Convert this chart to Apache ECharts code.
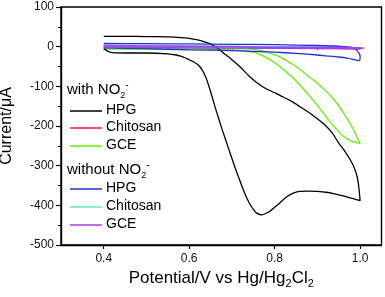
<!DOCTYPE html>
<html><head><meta charset="utf-8">
<script src="https://cdn.jsdelivr.net/npm/echarts@6/dist/echarts.min.js"></script>
<style>html,body{margin:0;padding:0;background:#fff}#c{width:385px;height:297px}</style>
</head><body><div id="c"></div>
<script>
// ---- data (Potential V, Current uA) ----
const hpgWith = [[0.40,26],[0.45,26],[0.50,25.5],[0.55,24.5],[0.58,23],[0.60,21],[0.62,17],[0.64,11],[0.655,4],[0.67,-7],[0.685,-20],[0.70,-33],[0.72,-52],[0.74,-74],[0.76,-92],[0.78,-106],[0.80,-116],[0.82,-127],[0.84,-138],[0.86,-152],[0.88,-166],[0.90,-182],[0.92,-200],[0.935,-218],[0.95,-243],[0.965,-265],[0.975,-282],[0.985,-302],[0.993,-328],[0.997,-355],[1.0,-388],
  [0.98,-382],[0.96,-376],[0.94,-371],[0.92,-367],[0.90,-365],[0.88,-364],[0.86,-365],[0.85,-367],[0.84,-371],[0.83,-377],[0.82,-386],[0.81,-396],[0.80,-405],[0.79,-414],[0.78,-420],[0.77,-424],[0.76,-421],[0.75,-410],[0.74,-393],[0.73,-370],[0.72,-342],[0.71,-313],[0.70,-282],[0.69,-250],[0.68,-218],[0.67,-185],[0.66,-150],[0.65,-113],[0.64,-80],[0.63,-58],[0.62,-45],[0.61,-38],[0.60,-33],[0.59,-28],[0.58,-24],[0.57,-21],[0.55,-18],[0.50,-16],[0.45,-16],[0.42,-15],[0.41,-12],[0.40,-5]];
const chitosanWith = [[0.40,2],[0.60,0],[0.80,-2],[0.95,-3],[1.0,-6],[0.95,-5],[0.80,-4],[0.60,-3],[0.40,-1]];
const gceWith = [[0.40,-6],[0.50,-6],[0.60,-7],[0.70,-8],[0.72,-9],[0.75,-14],[0.78,-27],[0.80,-40],[0.82,-57],[0.84,-76],[0.86,-98],[0.88,-122],[0.90,-148],[0.92,-176],[0.94,-203],[0.96,-225],[0.98,-238],[1.0,-244],
  [0.99,-222],[0.98,-200],[0.96,-165],[0.94,-135],[0.92,-112],[0.90,-92],[0.88,-75],[0.86,-58],[0.84,-43],[0.82,-30],[0.80,-20],[0.78,-13],[0.76,-8],[0.72,-4],[0.60,-3],[0.40,-2]];
const hpgWithout = [[0.40,8],[0.50,7.5],[0.60,7],[0.70,6],[0.80,5],[0.90,3],[0.95,1],[0.98,-2],[0.993,-10],[1.0,-25],[0.998,-35],[0.99,-34],[0.97,-29],[0.95,-26],[0.92,-23],[0.90,-21],[0.85,-17],[0.80,-14],[0.70,-10],[0.60,-8],[0.50,-5],[0.40,-3]];
const chitosanWithout = [[0.40,4],[0.60,2],[0.80,0],[0.95,-2],[1.0,-4],[0.95,-4],[0.80,-3],[0.60,-2],[0.40,0]];
const gceWithout = [[0.40,3],[0.60,1],[0.80,-1],[0.95,-2],[1.01,-3],[1.0,-5],[0.80,-4],[0.60,-3],[0.40,-1]];

const xTicks = [0.4, 0.6, 0.8, 1.0];
const xMinorTicks = [0.5, 0.7, 0.9];
const groupTitles = ['with NO', 'without NO'];
const itemNames = ['HPG', 'Chitosan', 'GCE'];
const withColors = ['#000000', '#e8123c', '#5ef000'];
const withoutColors = ['#1f2fe0', '#5ef0b0', '#a040f0'];

const FONT = 'Liberation Sans, Arial, sans-serif';
const chart = echarts.init(document.getElementById('c'), null, {renderer: 'canvas'});

function ser(name, data, color, z) {
  return {name, type: 'line', data, showSymbol: false, smooth: 0.25, z,
    lineStyle: {color, width: 1.3}, itemStyle: {color}, animation: false};
}

// legend graphics
const graphic = [];
const gx = 67, lx1 = 70, lx2 = 102, tx = 106;
const titleY = [90, 170];
const itemY = [[111, 128, 146], [189, 207, 225]];
const groupColors = [withColors, withoutColors];
for (let g = 0; g < 2; g++) {
  graphic.push({type: 'text', left: gx, top: titleY[g] - 10, z: 100,
    style: {text: '{m|' + groupTitles[g] + '}{s|2}{p|-}', fill: '#000',
      rich: {m: {fontFamily: FONT, fontSize: 15, fill: '#000'},
             s: {fontFamily: FONT, fontSize: 9, fill: '#000', verticalAlign: 'bottom', padding: [9, 0, 0, 0]},
             p: {fontFamily: FONT, fontSize: 10, fill: '#000', padding: [0, 0, 10, 0]}}}});
  for (let i = 0; i < 3; i++) {
    const y = itemY[g][i];
    graphic.push({type: 'line', z: 100, shape: {x1: lx1, y1: y, x2: lx2, y2: y},
      style: {stroke: groupColors[g][i], lineWidth: 1.5}});
    graphic.push({type: 'text', left: tx, top: y - 8, z: 100,
      style: {text: itemNames[i], fontFamily: FONT, fontSize: 14, fill: '#000'}});
  }
}

chart.setOption({
  animation: false,
  backgroundColor: '#fff',
  grid: {left: 61, right: 3.5, top: 7, bottom: 52, show: true, borderColor: '#000', borderWidth: 1.4,
    containLabel: false, outerBoundsMode: 'none'},
  xAxis: [{
    type: 'value', min: 0.3, max: 1.05,
    name: '{m|Potential/V vs Hg/Hg}{s|2}{m|Cl}{s|2}', nameLocation: 'middle', nameGap: 23,
    nameTextStyle: {rich: {m: {fontFamily: FONT, fontSize: 17, color: '#000'},
      s: {fontFamily: FONT, fontSize: 11, color: '#000', padding: [10, 0, 0, 0]}}},
    axisLine: {onZero: false, lineStyle: {color: '#000', width: 1.4}},
    axisTick: {inside: false, length: 4, customValues: xTicks, lineStyle: {color: '#000', width: 1.2}},
    axisLabel: {customValues: xTicks, formatter: v => v.toFixed(1), fontFamily: FONT, fontSize: 12, color: '#111', margin: 8},
    splitLine: {show: false}
  }, {
    type: 'value', min: 0.3, max: 1.05, position: 'bottom',
    axisLine: {show: false},
    axisTick: {inside: false, length: 3, customValues: xMinorTicks, lineStyle: {color: '#000', width: 1}},
    axisLabel: {show: false}, splitLine: {show: false}
  }],
  yAxis: {
    type: 'value', min: -500, max: 100, interval: 100,
    name: 'Current/μA', nameLocation: 'middle', nameGap: 46, nameRotate: 90,
    nameTextStyle: {fontFamily: FONT, fontSize: 16, color: '#000'},
    axisLine: {onZero: false, lineStyle: {color: '#000', width: 1.4}},
    axisTick: {inside: false, length: 5, lineStyle: {color: '#000', width: 1.2}},
    minorTick: {show: true, splitNumber: 2, length: 3, lineStyle: {color: '#000', width: 1}},
    axisLabel: {fontFamily: FONT, fontSize: 12, color: '#111', margin: 7},
    splitLine: {show: false}, minorSplitLine: {show: false}
  },
  graphic,
  series: [
    ser('Chitosan (with NO2-)', chitosanWith, withColors[1], 2),
    ser('Chitosan (without NO2-)', chitosanWithout, withoutColors[1], 3),
    ser('GCE (with NO2-)', gceWith, withColors[2], 4),
    ser('HPG (with NO2-)', hpgWith, withColors[0], 5),
    ser('HPG (without NO2-)', hpgWithout, withoutColors[0], 6),
    ser('GCE (without NO2-)', gceWithout, withoutColors[2], 7)
  ]
});
</script></body></html>
